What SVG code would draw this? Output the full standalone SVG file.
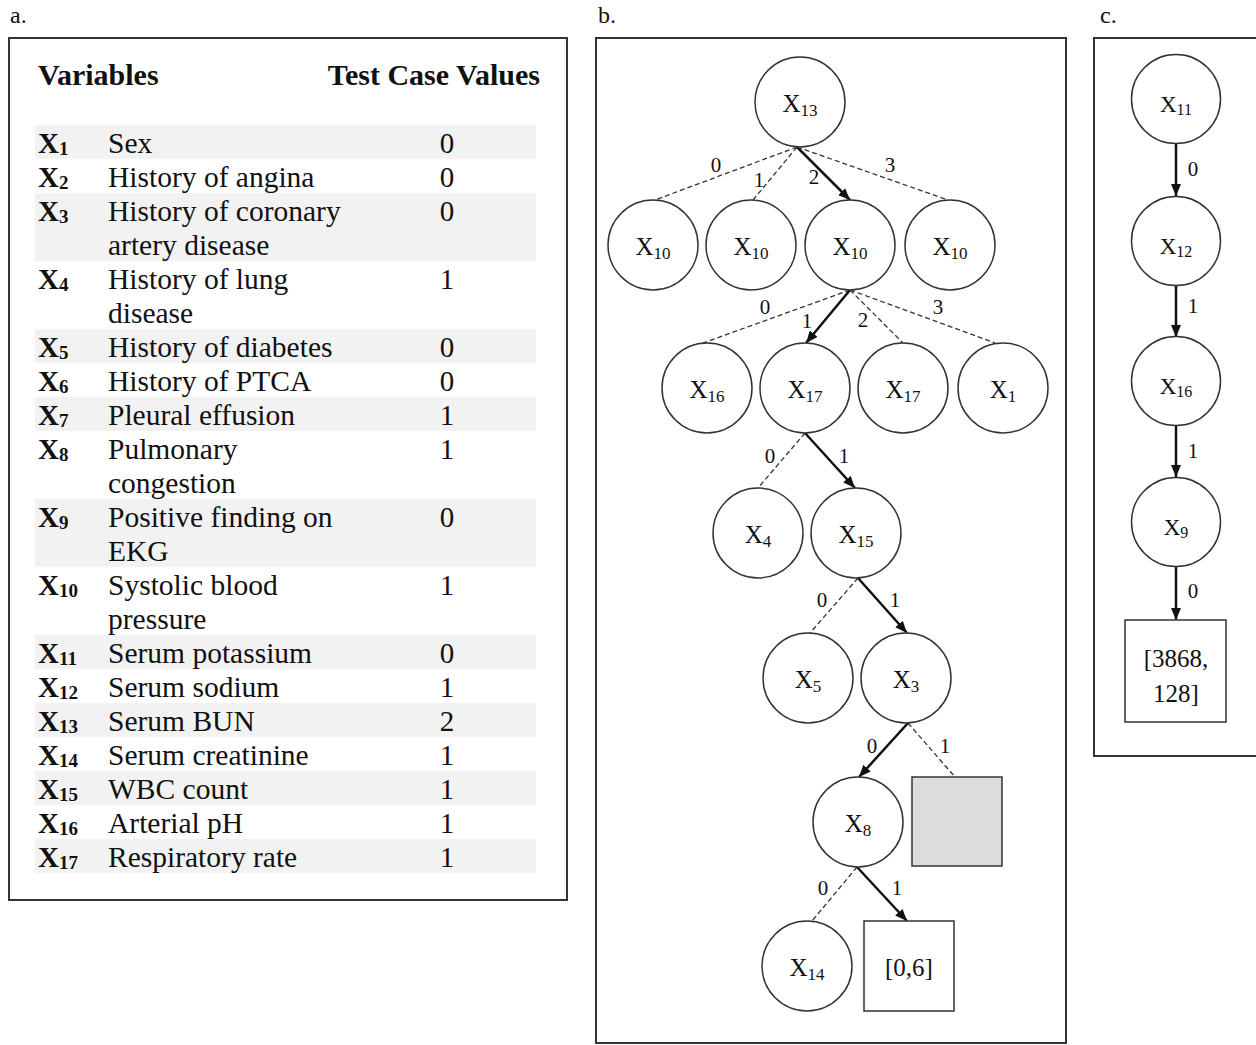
<svg xmlns="http://www.w3.org/2000/svg" width="1256" height="1045" viewBox="0 0 1256 1045">
<defs>
<style>
text{font-family:"Liberation Serif","Times New Roman",serif;fill:#111}
.plab{font-size:24px}
.panel{fill:#fff;stroke:#333;stroke-width:2}
.hdr{font-size:30px;font-weight:bold}
.vx{font-size:29px;font-weight:bold}
.sub{font-size:19px}
.desc{font-size:29.5px}
.val{font-size:29px;text-anchor:middle}
.band{fill:#f2f2f2}
.node circle{fill:#fff;stroke:#333;stroke-width:1.5}
.node rect{stroke:#333;stroke-width:1.5}
.nl{font-size:25px;text-anchor:middle}
.ns{font-size:17px}
.cl{font-size:23px;text-anchor:middle}
.cs{font-size:16px}
.el{font-size:21px;text-anchor:middle}
.dash{stroke:#333;stroke-width:1.3;stroke-dasharray:5 3;fill:none}
.solid{stroke:#111;stroke-width:2.5;fill:none;marker-end:url(#ah)}
.leaf{font-size:25px;text-anchor:middle}
</style>
<marker id="ah" viewBox="0 0 12 10" refX="12" refY="5" markerWidth="12" markerHeight="10" markerUnits="userSpaceOnUse" orient="auto">
<path d="M0,0 L12,5 L0,10 z" fill="#111"/>
</marker>
</defs>
<rect width="1256" height="1045" fill="#fff"/>

<!-- Panel labels -->
<text class="plab" x="10" y="23">a.</text>
<text class="plab" x="598" y="23">b.</text>
<text class="plab" x="1100" y="23">c.</text>

<!-- Panel a: table -->
<g id="panel-a">
<rect class="panel" x="9" y="38" width="558" height="862"/>
<text class="hdr" x="38" y="85">Variables</text>
<text class="hdr" x="540" y="85" text-anchor="end">Test Case Values</text>
<rect class="band" x="35" y="125" width="501" height="34"/>
<rect class="band" x="35" y="193" width="501" height="68"/>
<rect class="band" x="35" y="329" width="501" height="34"/>
<rect class="band" x="35" y="397" width="501" height="34"/>
<rect class="band" x="35" y="499" width="501" height="68"/>
<rect class="band" x="35" y="635" width="501" height="34"/>
<rect class="band" x="35" y="703" width="501" height="34"/>
<rect class="band" x="35" y="771" width="501" height="34"/>
<rect class="band" x="35" y="839" width="501" height="34"/>

<text class="vx" x="38" y="153">X<tspan class="sub" dy="2">1</tspan></text>
<text class="desc" x="108" y="153">Sex</text><text class="val" x="447" y="153">0</text>
<text class="vx" x="38" y="187">X<tspan class="sub" dy="2">2</tspan></text>
<text class="desc" x="108" y="187">History of angina</text><text class="val" x="447" y="187">0</text>
<text class="vx" x="38" y="221">X<tspan class="sub" dy="2">3</tspan></text>
<text class="desc" x="108" y="221">History of coronary</text><text class="desc" x="108" y="255">artery disease</text><text class="val" x="447" y="221">0</text>
<text class="vx" x="38" y="289">X<tspan class="sub" dy="2">4</tspan></text>
<text class="desc" x="108" y="289">History of lung</text><text class="desc" x="108" y="323">disease</text><text class="val" x="447" y="289">1</text>
<text class="vx" x="38" y="357">X<tspan class="sub" dy="2">5</tspan></text>
<text class="desc" x="108" y="357">History of diabetes</text><text class="val" x="447" y="357">0</text>
<text class="vx" x="38" y="391">X<tspan class="sub" dy="2">6</tspan></text>
<text class="desc" x="108" y="391">History of PTCA</text><text class="val" x="447" y="391">0</text>
<text class="vx" x="38" y="425">X<tspan class="sub" dy="2">7</tspan></text>
<text class="desc" x="108" y="425">Pleural effusion</text><text class="val" x="447" y="425">1</text>
<text class="vx" x="38" y="459">X<tspan class="sub" dy="2">8</tspan></text>
<text class="desc" x="108" y="459">Pulmonary</text><text class="desc" x="108" y="493">congestion</text><text class="val" x="447" y="459">1</text>
<text class="vx" x="38" y="527">X<tspan class="sub" dy="2">9</tspan></text>
<text class="desc" x="108" y="527">Positive finding on</text><text class="desc" x="108" y="561">EKG</text><text class="val" x="447" y="527">0</text>
<text class="vx" x="38" y="595">X<tspan class="sub" dy="2">10</tspan></text>
<text class="desc" x="108" y="595">Systolic blood</text><text class="desc" x="108" y="629">pressure</text><text class="val" x="447" y="595">1</text>
<text class="vx" x="38" y="663">X<tspan class="sub" dy="2">11</tspan></text>
<text class="desc" x="108" y="663">Serum potassium</text><text class="val" x="447" y="663">0</text>
<text class="vx" x="38" y="697">X<tspan class="sub" dy="2">12</tspan></text>
<text class="desc" x="108" y="697">Serum sodium</text><text class="val" x="447" y="697">1</text>
<text class="vx" x="38" y="731">X<tspan class="sub" dy="2">13</tspan></text>
<text class="desc" x="108" y="731">Serum BUN</text><text class="val" x="447" y="731">2</text>
<text class="vx" x="38" y="765">X<tspan class="sub" dy="2">14</tspan></text>
<text class="desc" x="108" y="765">Serum creatinine</text><text class="val" x="447" y="765">1</text>
<text class="vx" x="38" y="799">X<tspan class="sub" dy="2">15</tspan></text>
<text class="desc" x="108" y="799">WBC count</text><text class="val" x="447" y="799">1</text>
<text class="vx" x="38" y="833">X<tspan class="sub" dy="2">16</tspan></text>
<text class="desc" x="108" y="833">Arterial pH</text><text class="val" x="447" y="833">1</text>
<text class="vx" x="38" y="867">X<tspan class="sub" dy="2">17</tspan></text>
<text class="desc" x="108" y="867">Respiratory rate</text><text class="val" x="447" y="867">1</text>
</g>

<!-- Panel frames b and c -->
<rect class="panel" x="596" y="38" width="470" height="1005"/>
<rect class="panel" x="1094" y="38" width="170" height="718"/>

<!-- Connectors -->
<g id="connectors">
<line class="dash" x1="797" y1="147" x2="655" y2="200"/>
<line class="dash" x1="797" y1="147" x2="753" y2="200"/>
<line class="solid" x1="797" y1="147" x2="850" y2="200"/>
<line class="dash" x1="797" y1="147" x2="948" y2="200"/>
<line class="dash" x1="850" y1="290" x2="703" y2="343"/>
<line class="solid" x1="850" y1="290" x2="806" y2="343"/>
<line class="dash" x1="850" y1="290" x2="903" y2="343"/>
<line class="dash" x1="850" y1="290" x2="995" y2="343"/>
<line class="dash" x1="805" y1="433" x2="758" y2="488"/>
<line class="solid" x1="805" y1="433" x2="855" y2="488"/>
<line class="dash" x1="858" y1="578" x2="810" y2="633"/>
<line class="solid" x1="858" y1="578" x2="907" y2="633"/>
<line class="solid" x1="908" y1="723" x2="859" y2="777"/>
<line class="dash" x1="908" y1="723" x2="955" y2="777"/>
<line class="dash" x1="857" y1="867" x2="812" y2="921"/>
<line class="solid" x1="857" y1="867" x2="907" y2="921"/>
<line class="solid" x1="1176" y1="143" x2="1176" y2="196"/>
<line class="solid" x1="1176" y1="285" x2="1176" y2="337"/>
<line class="solid" x1="1176" y1="426" x2="1176" y2="477"/>
<line class="solid" x1="1176" y1="566" x2="1176" y2="620"/>
<text class="el" x="716" y="172">0</text>
<text class="el" x="759" y="187">1</text>
<text class="el" x="814" y="184">2</text>
<text class="el" x="890" y="172">3</text>
<text class="el" x="765" y="314">0</text>
<text class="el" x="807" y="328">1</text>
<text class="el" x="863" y="327">2</text>
<text class="el" x="938" y="314">3</text>
<text class="el" x="770" y="463">0</text>
<text class="el" x="844" y="463">1</text>
<text class="el" x="822" y="607">0</text>
<text class="el" x="895" y="607">1</text>
<text class="el" x="872" y="753">0</text>
<text class="el" x="945" y="753">1</text>
<text class="el" x="823" y="895">0</text>
<text class="el" x="897" y="895">1</text>
<text class="el" x="1193" y="176">0</text>
<text class="el" x="1193" y="313">1</text>
<text class="el" x="1193" y="458">1</text>
<text class="el" x="1193" y="598">0</text>
</g>

<!-- Panel b nodes -->
<g id="b-x13" class="node"><circle cx="800" cy="102" r="45"/><text class="nl" x="800" y="112">X<tspan class="ns" dy="4">13</tspan></text></g>
<g id="b-x10a" class="node"><circle cx="653" cy="245" r="45"/><text class="nl" x="653" y="255">X<tspan class="ns" dy="4">10</tspan></text></g>
<g id="b-x10b" class="node"><circle cx="751" cy="245" r="45"/><text class="nl" x="751" y="255">X<tspan class="ns" dy="4">10</tspan></text></g>
<g id="b-x10c" class="node"><circle cx="850" cy="245" r="45"/><text class="nl" x="850" y="255">X<tspan class="ns" dy="4">10</tspan></text></g>
<g id="b-x10d" class="node"><circle cx="950" cy="245" r="45"/><text class="nl" x="950" y="255">X<tspan class="ns" dy="4">10</tspan></text></g>
<g id="b-x16" class="node"><circle cx="707" cy="388" r="45"/><text class="nl" x="707" y="398">X<tspan class="ns" dy="4">16</tspan></text></g>
<g id="b-x17a" class="node"><circle cx="805" cy="388" r="45"/><text class="nl" x="805" y="398">X<tspan class="ns" dy="4">17</tspan></text></g>
<g id="b-x17b" class="node"><circle cx="903" cy="388" r="45"/><text class="nl" x="903" y="398">X<tspan class="ns" dy="4">17</tspan></text></g>
<g id="b-x1" class="node"><circle cx="1003" cy="388" r="45"/><text class="nl" x="1003" y="398">X<tspan class="ns" dy="4">1</tspan></text></g>
<g id="b-x4" class="node"><circle cx="758" cy="533" r="45"/><text class="nl" x="758" y="543">X<tspan class="ns" dy="4">4</tspan></text></g>
<g id="b-x15" class="node"><circle cx="856" cy="533" r="45"/><text class="nl" x="856" y="543">X<tspan class="ns" dy="4">15</tspan></text></g>
<g id="b-x5" class="node"><circle cx="808" cy="678" r="45"/><text class="nl" x="808" y="688">X<tspan class="ns" dy="4">5</tspan></text></g>
<g id="b-x3" class="node"><circle cx="906" cy="678" r="45"/><text class="nl" x="906" y="688">X<tspan class="ns" dy="4">3</tspan></text></g>
<g id="b-x8" class="node"><circle cx="858" cy="822" r="45"/><text class="nl" x="858" y="832">X<tspan class="ns" dy="4">8</tspan></text></g>
<g id="b-grey" class="node"><rect x="912" y="777" width="90" height="89" fill="#dcdcdc"/></g>
<g id="b-x14" class="node"><circle cx="807" cy="966" r="45"/><text class="nl" x="807" y="976">X<tspan class="ns" dy="4">14</tspan></text></g>
<g id="b-leaf" class="node"><rect x="864" y="921" width="90" height="90" fill="#fff"/><text class="leaf" x="909" y="976">[0,6]</text></g>

<!-- Panel c nodes -->
<g id="c-x11" class="node"><circle cx="1176" cy="99" r="44.5"/><text class="cl" x="1176" y="112">X<tspan class="cs" dy="3">11</tspan></text></g>
<g id="c-x12" class="node"><circle cx="1176" cy="241" r="44.5"/><text class="cl" x="1176" y="254">X<tspan class="cs" dy="3">12</tspan></text></g>
<g id="c-x16" class="node"><circle cx="1176" cy="381" r="44.5"/><text class="cl" x="1176" y="394">X<tspan class="cs" dy="3">16</tspan></text></g>
<g id="c-x9" class="node"><circle cx="1176" cy="522" r="44.5"/><text class="cl" x="1176" y="535">X<tspan class="cs" dy="3">9</tspan></text></g>
<g id="c-leaf" class="node"><rect x="1125" y="620" width="101" height="102" fill="#fff"/><text class="leaf" x="1176" y="667">[3868,</text><text class="leaf" x="1176" y="702">128]</text></g>
</svg>
